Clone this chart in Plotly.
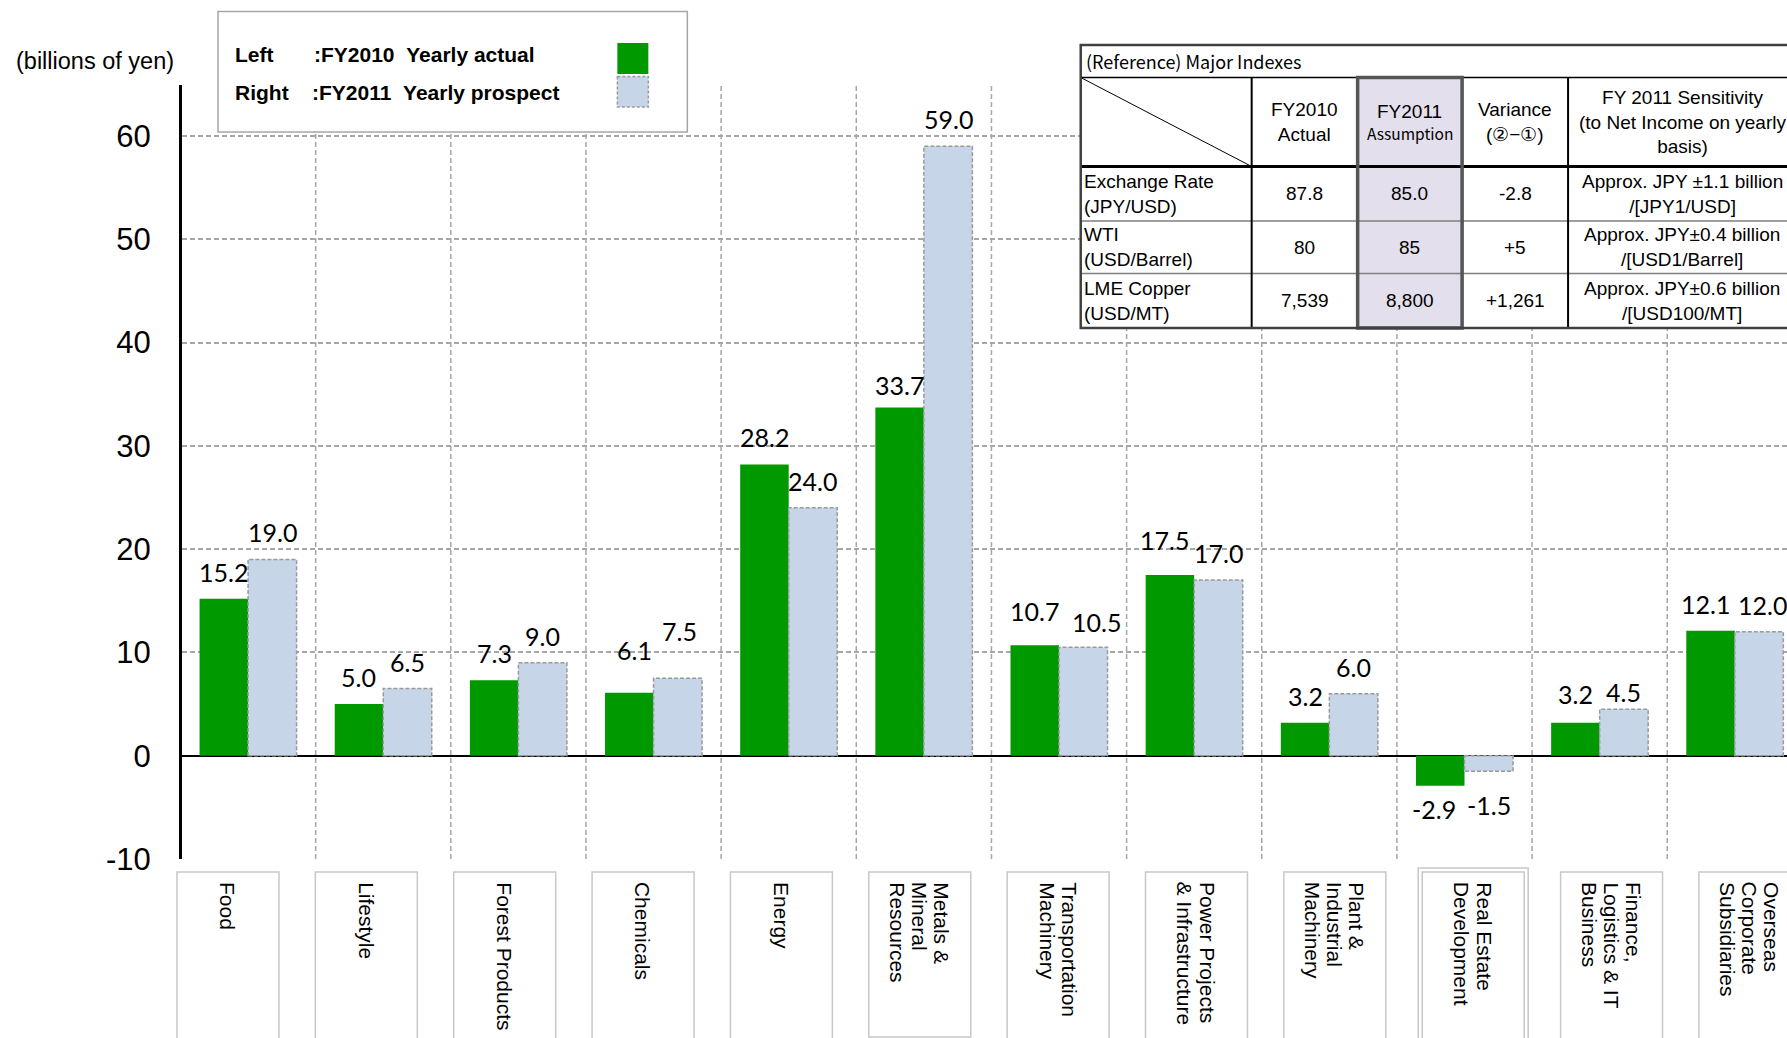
import plotly.graph_objects as go

# ---------------- data ----------------
categories = ["Food", "Lifestyle", "Forest Products", "Chemicals", "Energy",
              "Metals &<br>Mineral<br>Resources", "Transportation<br>Machinery",
              "Power Projects<br>& Infrastructure", "Plant &<br>Industrial<br>Machinery",
              "Real Estate<br>Development", "Finance,<br>Logistics & IT<br>Business",
              "Overseas<br>Corporate<br>Subsidiaries"]
fy2010_actual = [15.2, 5.0, 7.3, 6.1, 28.2, 33.7, 10.7, 17.5, 3.2, -2.9, 3.2, 12.1]
fy2011_prospect = [19.0, 6.5, 9.0, 7.5, 24.0, 59.0, 10.5, 17.0, 6.0, -1.5, 4.5, 12.0]
y_ticks = [-10, 0, 10, 20, 30, 40, 50, 60]
y_tick_labels = ["-10", "0", "10", "20", "30", "40", "50", "60"]

table_title = "(Reference) Major Indexes"
table_headers = ["FY2010<br>Actual", "FY2011", "Variance<br>(②−①)",
                 "FY 2011 Sensitivity<br>(to Net Income on yearly<br>basis)"]
table_rows = ["Exchange Rate<br>(JPY/USD)", "WTI<br>(USD/Barrel)", "LME Copper<br>(USD/MT)"]
index_fy2010 = ["87.8", "80", "7,539"]
index_fy2011 = ["85.0", "85", "8,800"]
index_variance = ["-2.8", "+5", "+1,261"]
index_sensitivity = ["Approx. JPY ±1.1 billion<br>/[JPY1/USD]",
                     "Approx. JPY±0.4 billion<br>/[USD1/Barrel]",
                     "Approx. JPY±0.6 billion<br>/[USD100/MT]"]

# ---------------- layout geometry (pixels) ----------------
W, H = 1787, 1038
L, T, B = 181.5, 85, 179
PW, PH = W - L, H - T - B
Y_BOTTOM = H - B
CAT_PX = 135.2          # pixel width of one category
X_START = -0.5 + 1.5 / CAT_PX


def PX(x):
    return (x - L) / PW


def PY(y):
    return (Y_BOTTOM - y) / PH


GREEN = "#009900"
BLUE = "#c6d5e8"
GRID = "#a6a6a6"
BARGAP = 0.282
HALF = (1 - BARGAP) / 2
NB = "\u00a0"

fig = go.Figure()
fig.add_trace(go.Bar(x=categories, y=fy2010_actual, name="FY2010 Yearly actual",
                     marker=dict(color=GREEN, line=dict(width=0))))
fig.add_trace(go.Bar(x=categories, y=fy2011_prospect, name="FY2011 Yearly prospect",
                     marker=dict(color=BLUE, line=dict(width=0))))

shapes = []
annotations = []

# vertical dashed separators between categories
for i in range(len(categories) - 1):
    shapes.append(dict(type="line", xref="x", yref="paper", x0=i + 0.5, x1=i + 0.5,
                       y0=0, y1=1, line=dict(color=GRID, width=1.5, dash="5px,3px"),
                       layer="below"))

# dashed border of prospect bars
for i, v in enumerate(fy2011_prospect):
    shapes.append(dict(type="rect", xref="x", yref="y", x0=i, x1=i + HALF, y0=0, y1=v,
                       line=dict(color="#9a9a9a", width=1.5, dash="4px,2px"), layer="above"))

# value labels (pixel nudges for a few labels that were moved in the original)
label_nudge = {(0, 3): (5, 16), (1, 3): (2, 20), (0, 5): (0, -4), (0, 6): (0, 7),
               (1, 6): (13, -2), (0, 7): (-5, 8), (0, 9): (-6, 0), (1, 9): (0, -11),
               (0, 10): (0, 2), (1, 10): (0, -10), (0, 11): (-5, 0), (1, 11): (3, 0)}
for s, (vals, off) in enumerate([(fy2010_actual, -HALF / 2), (fy2011_prospect, HALF / 2)]):
    for i, v in enumerate(vals):
        dx, dy = label_nudge.get((s, i), (0, 0))
        pos = v >= 0
        annotations.append(dict(x=i + off, y=v, xref="x", yref="y", text=f"{v:.1f}",
                                showarrow=False, xanchor="center",
                                yanchor="bottom" if pos else "top",
                                xshift=dx, yshift=(10 if pos else -6) + dy,
                                font=dict(family="Lato", size=25, color="black")))

# category label boxes
BOX_X0, BOX_STEP, BOX_W, BOX_TOP = 176.5, 138.4, 102, 872
for i, cat in enumerate(categories):
    x0 = BOX_X0 + i * BOX_STEP
    x1 = x0 + BOX_W
    closed = i == 5
    y1 = 1037 if closed else 1045
    shapes.append(dict(type="rect", xref="paper", yref="paper", x0=PX(x0), x1=PX(x1),
                       y0=PY(BOX_TOP), y1=PY(y1), line=dict(color="#c8c8c8", width=1.5)))
    if i == 9:
        shapes.append(dict(type="rect", xref="paper", yref="paper", x0=PX(x0 - 4),
                           x1=PX(x1 + 4), y0=PY(BOX_TOP - 4), y1=PY(1045),
                           line=dict(color="#c8c8c8", width=1.5)))
    lines = cat.split("<br>")
    n = len(lines)
    for k, ln in enumerate(lines):
        annotations.append(dict(x=PX((x0 + x1) / 2), y=PY(BOX_TOP + 9), xref="paper",
                                yref="paper", text=ln, textangle=90, showarrow=False,
                                xanchor="center", yanchor="top", borderpad=0,
                                xshift=((n - 1) / 2 - k) * 22,
                                font=dict(family="Liberation Sans", size=21, color="black")))

# unit label
annotations.append(dict(x=PX(13), y=PY(61), xref="paper", yref="paper",
                        text="(billions of yen)", showarrow=False, xanchor="left",
                        yanchor="middle",
                        font=dict(family="Liberation Sans", size=23.5, color="black")))

# legend box
shapes.append(dict(type="rect", xref="paper", yref="paper", x0=PX(217.5), x1=PX(687),
                   y0=PY(11.5), y1=PY(132), fillcolor="white",
                   line=dict(color="#a6a6a6", width=1.5), layer="above"))
shapes.append(dict(type="rect", xref="paper", yref="paper", x0=PX(617), x1=PX(648),
                   y0=PY(43), y1=PY(74), fillcolor=GREEN, line=dict(width=0), layer="above"))
shapes.append(dict(type="rect", xref="paper", yref="paper", x0=PX(617), x1=PX(648),
                   y0=PY(76.5), y1=PY(107), fillcolor=BLUE,
                   line=dict(color="#9a9a9a", width=1.5, dash="3px,2px"), layer="above"))
for txt, xx, yy in [("Left", 233, 54.5), (":FY2010" + NB + NB + "Yearly actual", 312, 54.5),
                    ("Right", 233, 92), (":FY2011" + NB + NB + "Yearly prospect", 310, 92)]:
    annotations.append(dict(x=PX(xx), y=PY(yy), xref="paper", yref="paper",
                            text=f"<b>{txt}</b>", showarrow=False, xanchor="left",
                            yanchor="middle",
                            font=dict(family="Liberation Sans", size=21, color="black")))

# reference table
cx = [1080.5, 1251.5, 1357.5, 1462, 1568, 1796]
ry = [45, 77.5, 166.5, 221, 273.5, 328]
shapes.append(dict(type="rect", xref="paper", yref="paper", x0=PX(cx[0]), x1=PX(cx[5]),
                   y0=PY(ry[0]), y1=PY(ry[5]), fillcolor="white",
                   line=dict(width=0), layer="above"))
shapes.append(dict(type="rect", xref="paper", yref="paper", x0=PX(cx[2]), x1=PX(cx[3]),
                   y0=PY(ry[1]), y1=PY(ry[5]), fillcolor="#e4dfec",
                   line=dict(width=0), layer="above"))
for yv in ry[3:5]:
    shapes.append(dict(type="line", xref="paper", yref="paper", x0=PX(cx[0]), x1=PX(cx[5]),
                       y0=PY(yv), y1=PY(yv), line=dict(color="#7f7f7f", width=1.5),
                       layer="above"))
shapes.append(dict(type="line", xref="paper", yref="paper", x0=PX(cx[0]), x1=PX(cx[5]),
                   y0=PY(ry[1]), y1=PY(ry[1]), line=dict(color="black", width=1.5),
                   layer="above"))
shapes.append(dict(type="line", xref="paper", yref="paper", x0=PX(cx[0]), x1=PX(cx[5]),
                   y0=PY(ry[2]), y1=PY(ry[2]), line=dict(color="black", width=3),
                   layer="above"))
for xv in cx[1:5]:
    shapes.append(dict(type="line", xref="paper", yref="paper", x0=PX(xv), x1=PX(xv),
                       y0=PY(ry[1]), y1=PY(ry[5]), line=dict(color="black", width=2),
                       layer="above"))
shapes.append(dict(type="line", xref="paper", yref="paper", x0=PX(cx[0]), x1=PX(cx[1]),
                   y0=PY(ry[1]), y1=PY(ry[2]), line=dict(color="black", width=1),
                   layer="above"))
shapes.append(dict(type="rect", xref="paper", yref="paper", x0=PX(cx[2]), x1=PX(cx[3]),
                   y0=PY(ry[1]), y1=PY(ry[5]), line=dict(color="#555555", width=3.5),
                   layer="above"))
shapes.append(dict(type="rect", xref="paper", yref="paper", x0=PX(cx[0]), x1=PX(cx[5]),
                   y0=PY(ry[0]), y1=PY(ry[5]), line=dict(color="#404040", width=2.5),
                   layer="above"))

TF = dict(family="Liberation Sans", size=19, color="black")
annotations.append(dict(x=PX(cx[0] + 3), y=PY((ry[0] + ry[1]) / 2), xref="paper",
                        yref="paper", text=table_title, showarrow=False, xanchor="left",
                        yanchor="middle",
                        font=dict(family="Noto Sans CJK JP", size=18, color="black")))
hy = (ry[1] + ry[2]) / 2
for j, h in enumerate(table_headers):
    xc = (cx[j + 1] + cx[j + 2]) / 2
    if j == 1:
        annotations.append(dict(x=PX(xc), y=PY(hy - 11), xref="paper", yref="paper",
                                text=h, showarrow=False, xanchor="center", yanchor="middle",
                                font=TF))
        annotations.append(dict(x=PX(xc), y=PY(hy + 11), xref="paper", yref="paper",
                                text="Assumption", showarrow=False, xanchor="center",
                                yanchor="middle",
                                font=dict(family="Noto Sans CJK JP", size=15.5, color="black")))
    else:
        annotations.append(dict(x=PX(xc), y=PY(hy), xref="paper", yref="paper", text=h,
                                showarrow=False, xanchor="center", yanchor="middle", font=TF))
for r, name in enumerate(table_rows):
    yc = (ry[r + 2] + ry[r + 3]) / 2
    annotations.append(dict(x=PX(cx[0] + 1), y=PY(yc), xref="paper", yref="paper",
                            text=name, showarrow=False, xanchor="left", yanchor="middle",
                            align="left", font=TF))
    for j, col in enumerate([index_fy2010, index_fy2011, index_variance, index_sensitivity]):
        xc = (cx[j + 1] + cx[j + 2]) / 2
        annotations.append(dict(x=PX(xc), y=PY(yc), xref="paper", yref="paper",
                                text=col[r], showarrow=False, xanchor="center",
                                yanchor="middle", font=TF))

fig.update_layout(
    width=W, height=H, margin=dict(l=L, r=0, t=T, b=B, pad=0),
    paper_bgcolor="white", plot_bgcolor="white",
    barmode="group", bargap=BARGAP, bargroupgap=0, showlegend=False,
    shapes=shapes, annotations=annotations,
    xaxis=dict(type="category", range=[X_START, X_START + PW / CAT_PX], showgrid=False,
               zeroline=False, showline=False, showticklabels=False, ticks=""),
    yaxis=dict(range=[-10, -10 + PH / 10.33], tickvals=y_ticks, ticktext=y_tick_labels,
               showgrid=True, gridcolor=GRID, gridwidth=1.5, griddash="5px,3px",
               zeroline=True, zerolinecolor="black", zerolinewidth=1.5,
               showline=True, linecolor="black", linewidth=3, ticks="",
               ticklabelstandoff=22,
               tickfont=dict(family="Liberation Sans", size=31, color="black")),
)

fig.write_html("out.html")
